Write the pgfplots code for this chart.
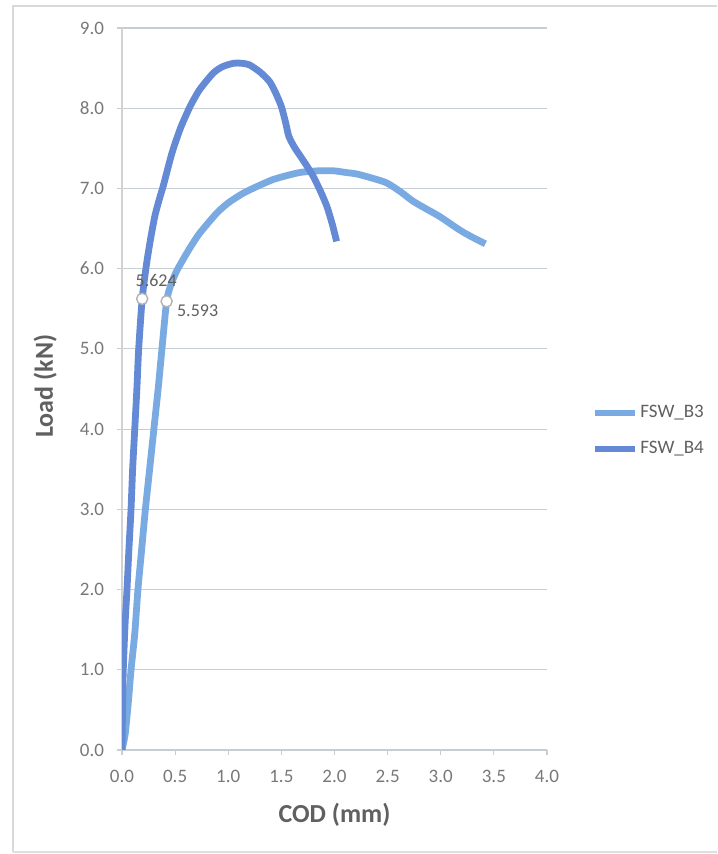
\documentclass[border=0pt]{standalone}
\usepackage{pgfplots}
\pgfplotsset{compat=1.18}
\usepackage{fontspec}
\setmainfont{Carlito}
\definecolor{bthree}{RGB}{122,170,226}
\definecolor{bfour}{RGB}{100,138,214}
\definecolor{gridc}{RGB}{196,206,212}
\definecolor{tickc}{RGB}{120,120,120}
\definecolor{labc}{RGB}{96,96,96}
\begin{document}
\begin{tikzpicture}
\path[use as bounding box] (0pt,0pt) rectangle (358.5pt,427pt);
\draw[gray!30, line width=0.6pt] (6.5pt,1pt) -- (6.5pt,424pt) -- (358.5pt,424pt);
\draw[gray!25, line width=0.6pt] (6.5pt,1pt) -- (358.5pt,1pt);
\begin{axis}[
  at={(61pt,52pt)}, anchor=south west,
  scale only axis, width=212.5pt, height=361pt,
  xmin=0, xmax=4, ymin=0, ymax=9,
  xtick={0,0.5,...,4}, ytick={0,1,...,9},
  axis x line*=bottom, axis y line*=left,
  x axis line style={draw=gridc, line width=0.6pt, -},
  y axis line style={draw=gray!35, line width=0.6pt, -},
  ymajorgrids, grid style={draw=gridc, line width=0.6pt},
  tick align=outside, major tick length=2.5pt,
  xtick style={draw=gridc, line width=0.6pt},
  ytick style={draw=gridc, line width=0.6pt},
  xticklabel style={font=\fontsize{9.5}{11}\selectfont, text=tickc, yshift=-4pt},
  yticklabel style={font=\fontsize{9.5}{11}\selectfont, text=tickc, xshift=-3pt},
  /pgf/number format/.cd, fixed, fixed zerofill, precision=1, assume math mode=true,
  /pgfplots/.cd,
  xlabel={COD (mm)}, ylabel={Load (kN)},
  xlabel style={font=\bfseries\fontsize{13}{15}\selectfont, text=labc, at={(axis description cs:0.5,-0.09)}, anchor=center},
  ylabel style={font=\bfseries\fontsize{13}{15}\selectfont, text=labc, at={(axis description cs:-0.181,0.504)}, anchor=center},
  legend style={at={(axis description cs:1.106,0.442)}, anchor=west, draw=none, fill=none,
    font=\fontsize{9.5}{11}\selectfont, text=labc, row sep=8pt, inner xsep=0pt,
    nodes={inner sep=1pt}},
  legend cell align=left,
  legend image code/.code={\draw[#1, line width=3pt] (0pt,0pt) -- (20pt,0pt);},
]
\addplot[bthree, line width=3.4pt, smooth, tension=0.4] coordinates {
(0,0)(0.03,0.2)(0.06,0.6)(0.085,1.0)(0.12,1.45)(0.15,2.0)(0.185,2.5)(0.22,3.0)
(0.26,3.5)(0.30,4.0)(0.34,4.5)(0.376,5.0)(0.42,5.593)(0.46,5.80)(0.51,5.96)(0.56,6.08)
(0.64,6.26)(0.73,6.44)(0.89,6.69)(1.0,6.82)(1.14,6.94)(1.28,7.03)(1.42,7.11)
(1.55,7.16)(1.68,7.20)(1.85,7.22)(1.99,7.22)(2.1,7.2)(2.21,7.18)(2.35,7.13)
(2.49,7.07)(2.62,6.96)(2.74,6.84)(2.87,6.74)(2.99,6.65)(3.18,6.48)(3.30,6.39)(3.42,6.31)};
\addlegendentry{FSW\_B3}
\addplot[bfour, line width=3.4pt, smooth, tension=0.4] coordinates {
(0,0)(0.005,0.5)(0.012,1.0)(0.03,1.6)(0.047,2.0)(0.065,2.5)(0.085,3.0)(0.10,3.5)
(0.12,4.0)(0.14,4.5)(0.157,5.0)(0.19,5.624)(0.23,6.05)(0.27,6.38)(0.31,6.66)(0.35,6.86)
(0.39,7.04)(0.47,7.44)(0.55,7.75)(0.64,8.02)(0.73,8.23)(0.86,8.44)(0.95,8.52)(1.05,8.56)
(1.13,8.56)(1.20,8.54)(1.30,8.45)(1.39,8.33)(1.45,8.18)(1.50,8.02)(1.54,7.82)(1.57,7.65)
(1.62,7.52)(1.68,7.40)(1.74,7.28)(1.80,7.15)(1.87,6.96)(1.93,6.77)(1.98,6.55)(2.02,6.34)};
\addlegendentry{FSW\_B4}
\addplot[only marks, mark=*, mark size=2.8pt, mark options={fill=white, draw=gray!60, line width=0.7pt},
  nodes near coords={5.624},
  every node near coord/.style={anchor=center, xshift=7pt, yshift=9pt, font=\fontsize{9}{11}\selectfont, text=labc}]
  coordinates {(0.19,5.624)};
\addplot[only marks, mark=*, mark size=2.8pt, mark options={fill=white, draw=gray!60, line width=0.7pt},
  nodes near coords={5.593},
  every node near coord/.style={anchor=center, xshift=15.5pt, yshift=-4.5pt, font=\fontsize{9}{11}\selectfont, text=labc}]
  coordinates {(0.42,5.593)};
\end{axis}
\end{tikzpicture}
\end{document}
